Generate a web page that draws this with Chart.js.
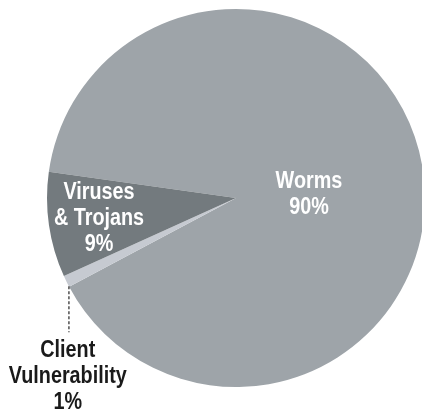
<!DOCTYPE html>
<html>

<head>
  <title>Infection sources</title>
  <style>
    body {
      margin: 0;
      background-color: #ffffff;
      overflow: hidden;
    }

    #box {
      position: absolute;
      left: 0;
      top: 0;
      width: 430px;
      height: 414px;
    }
  </style>
  <script src="https://cdn.jsdelivr.net/npm/chart.js"></script>
</head>

<body>
  <div id="box">
    <canvas id="grafico"></canvas>
  </div>
</body>
</html>
<script>
  // dados
  var categorias = ["Worms", "Client Vulnerability", "Viruses & Trojans"];
  var valores = [90, 1, 9];
  var textos = [["Worms", "90%"], ["Client", "Vulnerability", "1%"], ["Viruses", "& Trojans", "9%"]];
  var cores = ["#9ea4a9", "#c6cad1", "#737a7e"];

  // posicao dos textos em fracao do raio, relativo ao centro
  var posTexto = [[0.386, -0.02], [-0.89, 0.945], [-0.725, 0.11]];
  var corTexto = ["#ffffff", "#1a1a1a", "#ffffff"];

  // fonte estreita: Liberation Sans comprimida na horizontal
  var fonte = "bold 23px 'Liberation Sans', Arial, sans-serif";
  var aperto = 0.86;

  const rotulos = {
    id: 'rotulos',
    afterDatasetsDraw(chart) {
      const ctx = chart.ctx;
      const arcos = chart.getDatasetMeta(0).data;
      const cx = arcos[0].x;
      const cy = arcos[0].y;
      const r = arcos[0].outerRadius;
      ctx.save();
      ctx.font = fonte;
      ctx.textAlign = 'center';
      ctx.textBaseline = 'middle';
      for (var i = 0; i < textos.length; i++) {
        var x = cx + posTexto[i][0] * r;
        var y = cy + posTexto[i][1] * r;
        var linhas = textos[i];
        var alt = 26;
        var y0 = y - (linhas.length - 1) * alt / 2;
        ctx.fillStyle = corTexto[i];
        for (var j = 0; j < linhas.length; j++) {
          ctx.save();
          ctx.translate(x, y0 + j * alt);
          ctx.scale(aperto, 1);
          ctx.fillText(linhas[j], 0, 0);
          ctx.restore();
        }
      }
      // linha tracejada do Client Vulnerability
      var lx = cx - 0.884 * r;
      var ly1 = cy + Math.sqrt(r * r - (lx - cx) * (lx - cx));
      var ly2 = cy + 0.71 * r;
      ctx.strokeStyle = '#333333';
      ctx.lineWidth = 1.3;
      ctx.setLineDash([3, 2]);
      ctx.beginPath();
      ctx.moveTo(lx, ly1);
      ctx.lineTo(lx, ly2);
      ctx.stroke();
      ctx.restore();
    }
  };

  new Chart(document.getElementById('grafico'), {
    type: 'pie',
    data: {
      labels: categorias,
      datasets: [{
        data: valores,
        backgroundColor: cores,
        borderWidth: 0
      }]
    },
    options: {
      responsive: true,
      maintainAspectRatio: false,
      animation: false,
      rotation: 278,
      layout: {
        padding: { left: 47, right: 5, top: 9, bottom: 27 }
      },
      plugins: {
        legend: { display: false },
        tooltip: { enabled: false }
      }
    },
    plugins: [rotulos]
  });
</script>
